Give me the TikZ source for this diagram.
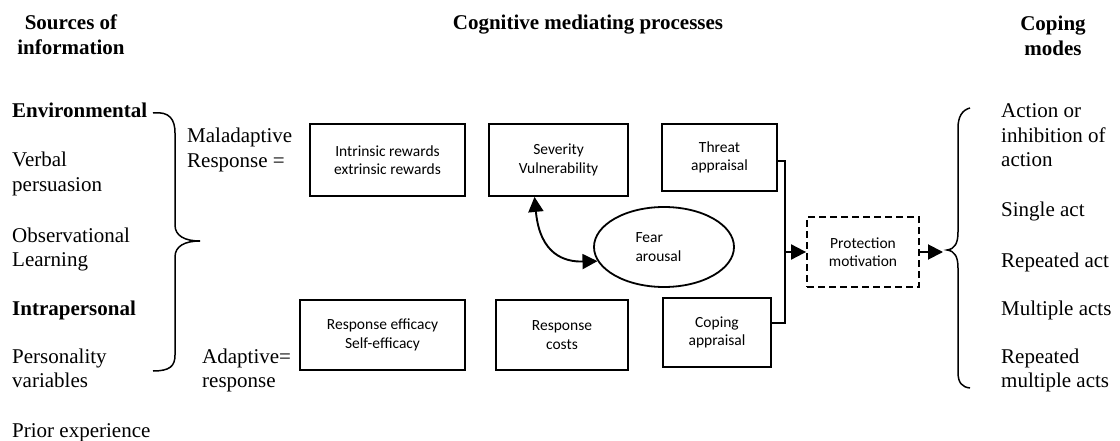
\documentclass[tikz,border=0pt]{standalone}
\usepackage{fontspec}
\setmainfont{Liberation Serif}
\newfontfamily\boxfont{Carlito}
\usetikzlibrary{arrows.meta,shapes.geometric}

% multi-line text whose baseline is that of its first line
\newcommand\leftstack[1]{\begin{tabular}[t]{@{}l@{}}#1\end{tabular}}
\newcommand\centerstack[1]{\begin{tabular}[t]{@{}c@{}}#1\end{tabular}}

\tikzset{
  serif/.style={inner sep=0pt, anchor=base west, font=\fontsize{21}{24.5}\selectfont},
  header/.style={inner sep=0pt, anchor=base, font=\fontsize{21}{24.5}\selectfont\bfseries},
  stagebox/.style={draw, line width=1.8pt, inner sep=2pt, align=center,
    font=\boxfont\fontsize{15.5}{18.5}\selectfont},
  fearshape/.style={draw, ellipse, line width=1.8pt, inner sep=0pt, align=left,
    minimum width=140pt, minimum height=80pt,
    font=\boxfont\fontsize{15.5}{18.5}\selectfont},
  outcome/.style={stagebox, dash pattern=on 7pt off 4pt},
  link/.style={line width=1.9pt},
  arrowlink/.style={line width=1.9pt, -{Triangle[length=15pt,width=15pt]}},
  twoway/.style={line width=1.9pt, {Triangle[length=15pt,width=15pt]}-{Triangle[length=15pt,width=15pt]}},
  bracepath/.style={line width=1.5pt},
}

\begin{document}
\begin{tikzpicture}[x=1pt, y=-1pt]
\useasboundingbox (0,0) rectangle (1120,441);

% column headings
\node[header] (hsrc) at (71,30) {\centerstack{Sources of\\information}};
\node[header] (hcog) at (588,30) {Cognitive mediating processes};
\node[header] (hcop) at (1053,31) {\centerstack{Coping\\modes}};

% sources of information
\node[serif] (env)   at (12,118) {\bfseries Environmental};
\node[serif] (verb)  at (12,167) {\leftstack{Verbal\\persuasion}};
\node[serif] (obs)   at (12,242) {\leftstack{Observational\\Learning}};
\node[serif] (intra) at (12,315) {\bfseries Intrapersonal};
\node[serif] (pers)  at (12,363) {\leftstack{Personality\\variables}};
\node[serif] (prior) at (12,437) {Prior experience};

% left brace
\draw[bracepath] (153,113) .. controls (170,111) and (175,120) .. (175,133)
  -- (175,225) .. controls (175,236) and (185,241) .. (200,241)
  .. controls (185,241) and (175,246) .. (175,257)
  -- (175,355) .. controls (175,366) and (170,371) .. (153,371);

% response labels
\node[serif] (mal) at (187,143) {\leftstack{Maladaptive\\Response =}};
\node[serif] (ada) at (202,363) {\leftstack{Adaptive=\\response}};

% mediating processes
\node[stagebox, minimum width=155pt, minimum height=72pt] (intr) at (387.5,160)
  {Intrinsic rewards\\extrinsic rewards};
\node[stagebox, minimum width=139pt, minimum height=72pt] (sev) at (558.5,160)
  {Severity\\Vulnerability};
\node[stagebox, minimum width=115pt, minimum height=67pt] (threat) at (719.5,157.5)
  {Threat\\appraisal};
\node[stagebox, minimum width=165pt, minimum height=70pt] (resp) at (382.5,335)
  {Response efficacy\\Self-efficacy};
\node[stagebox, minimum width=132pt, minimum height=70pt] (cost) at (562,335)
  {Response\\costs};
\node[stagebox, minimum width=108pt, minimum height=69pt] (coping) at (717,332.5)
  {Coping\\appraisal};
\node[fearshape] (fear) at (664,247) {Fear\\arousal\hspace*{11pt}};
\node[outcome, minimum width=112pt, minimum height=70pt] (prot) at (863,252)
  {Protection\\motivation};

% severity <-> fear arousal
\draw[twoway] ([xshift=-24pt]sev.south) .. controls (540,255) and (565,262) .. (fear.192);

% threat and coping appraisal join into protection motivation
\coordinate (join) at (785,252);
\draw[link] ([yshift=-3.5pt]threat.east) -| (join) |- ([yshift=9.5pt]coping.east);
\draw[arrowlink] (join) -- (prot.west);

% protection motivation -> coping modes
\coordinate (rbin) at (943,252);
\draw[arrowlink] (prot.east) -- (rbin);

% right brace
\draw[bracepath] (970,108) .. controls (962,110) and (958,117) .. (958,128)
  -- (958,232) .. controls (958,243) and (955,249) .. (947,250)
  .. controls (955,251) and (958,257) .. (958,268)
  -- (958,372) .. controls (958,383) and (962,387) .. (970,388);

% coping modes
\node[serif] (act)    at (1001,118) {\leftstack{Action or\\inhibition of\\action}};
\node[serif] (single) at (1001,217) {Single act};
\node[serif] (rep)    at (1001,267) {Repeated act};
\node[serif] (mult)   at (1001,315) {Multiple acts};
\node[serif] (repm)   at (1001,363) {\leftstack{Repeated\\multiple acts}};
\end{tikzpicture}
\end{document}
